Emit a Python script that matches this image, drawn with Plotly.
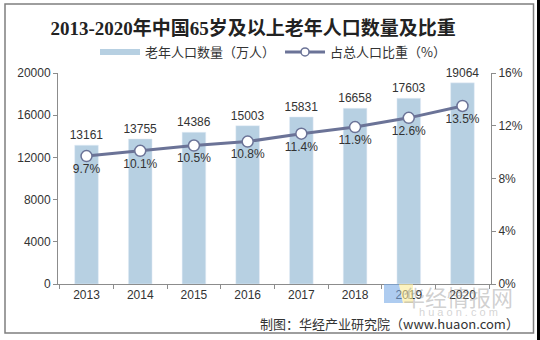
import plotly.graph_objects as go

years = ["2013", "2014", "2015", "2016", "2017", "2018", "2019", "2020"]
population = [13161, 13755, 14386, 15003, 15831, 16658, 17603, 19064]
share = [9.7, 10.1, 10.5, 10.8, 11.4, 11.9, 12.6, 13.5]

W, H = 540, 340
ML, MR, MT, MB = 58, 49, 73, 56
PW, PH = W - ML - MR, H - MT - MB

def xp(px):
    return (px - ML) / PW

def yp(py):
    return (H - MB - py) / PH

bar_color = "#b7d0e2"
line_color = "#6b7397"
txt = "#333333"
sans = "Arial, 'Liberation Sans', 'Noto Sans CJK SC', sans-serif"
cjk = "'Noto Sans CJK SC', sans-serif"

fig = go.Figure()
fig.add_trace(go.Bar(
    x=years, y=population, marker_color=bar_color, showlegend=False,
    text=[str(v) for v in population], textposition="outside", constraintext="none",
    textfont=dict(size=12, color=txt, family=sans), cliponaxis=False,
    name="老年人口数量（万人）",
))
fig.add_trace(go.Scatter(
    x=years, y=share, yaxis="y2", mode="lines+markers+text",
    line=dict(color=line_color, width=3),
    marker=dict(size=11, color="white", line=dict(color=line_color, width=1.5)),
    text=[f"{v}%" for v in share], textposition="bottom center",
    textfont=dict(size=12, color=txt, family=sans), cliponaxis=False,
    showlegend=False, name="占总人口比重（%）",
))
# legend proxies
fig.add_trace(go.Scatter(
    x=[None], y=[None], mode="lines", line=dict(color=bar_color, width=6),
    name="老年人口数量（万人）",
))
fig.add_trace(go.Scatter(
    x=[None], y=[None], mode="lines+markers", line=dict(color=line_color, width=3),
    marker=dict(size=8, color="white", line=dict(color=line_color, width=1.5)),
    name="占总人口比重（%）", yaxis="y2",
))

axis_line = "#8c8c8c"
fig.update_layout(
    width=W, height=H, margin=dict(l=ML, r=MR, t=MT, b=MB),
    paper_bgcolor="white", plot_bgcolor="white",
    bargap=0.56,
    title=dict(text="<b>2013-2020年中国65岁及以上老年人口数量及比重</b>",
               x=xp(261), xanchor="center", y=1 - 28 / H, yanchor="middle",
               font=dict(size=19, color="#222222",
                         family="'Liberation Serif', 'Times New Roman', 'Noto Sans CJK SC', serif")),
    legend=dict(orientation="h", x=xp(273), xanchor="center", y=yp(52), yanchor="middle",
                font=dict(size=13, color=txt, family=cjk), itemwidth=40,
                bgcolor="rgba(0,0,0,0)", traceorder="normal"),
    xaxis=dict(type="category", showline=True, linecolor=axis_line, linewidth=1,
               ticks="outside", tickson="boundaries", ticklen=4, tickcolor=axis_line,
               tickfont=dict(size=12, color=txt, family=sans), showgrid=False),
    yaxis=dict(range=[0, 20000], dtick=4000, tickformat="d", showline=True, linecolor=axis_line,
               ticks="outside", ticklen=4, tickcolor=axis_line, showgrid=False,
               zeroline=False, tickfont=dict(size=12, color=txt, family=sans)),
    yaxis2=dict(range=[0, 16], dtick=4, overlaying="y", side="right", showline=True,
                linecolor=axis_line, ticks="outside", ticklen=4, tickcolor=axis_line,
                showgrid=False, zeroline=False, ticksuffix="%",
                tickfont=dict(size=12, color=txt, family=sans)),
    font=dict(family=sans, color=txt),
)

shapes = [
    dict(type="rect", xref="paper", yref="paper", x0=xp(5), x1=xp(533.5), y0=yp(4), y1=yp(333),
         line=dict(color="#7f7f7f", width=1.5), fillcolor="rgba(0,0,0,0)", layer="below"),
    dict(type="rect", xref="paper", yref="paper", x0=xp(537), x1=xp(541), y0=yp(-1), y1=yp(341),
         line=dict(width=0), fillcolor="black"),
    dict(type="path", xref="paper", yref="paper",
         path=f"M {xp(384)},{yp(284)} L {xp(399)},{yp(284)} L {xp(403)},{yp(303)} L {xp(384)},{yp(303)} Z",
         line=dict(width=0), fillcolor="rgba(120,170,230,0.6)"),
    dict(type="path", xref="paper", yref="paper",
         path=f"M {xp(399)},{yp(284)} L {xp(413)},{yp(284)} L {xp(413)},{yp(303)} L {xp(403)},{yp(303)} Z",
         line=dict(width=0), fillcolor="rgba(250,235,150,0.6)"),
]
fig.update_layout(shapes=shapes)

fig.add_annotation(text="华经情报网", xref="paper", yref="paper", x=xp(458), y=yp(296),
                   xanchor="center", yanchor="middle", showarrow=False,
                   font=dict(size=22, color="rgba(150,150,150,0.45)", family=cjk))
fig.add_annotation(text="h u a o n . c o m", xref="paper", yref="paper", x=xp(458), y=yp(312),
                   xanchor="center", yanchor="middle", showarrow=False,
                   font=dict(size=11, color="rgba(170,170,170,0.5)", family=sans))
fig.add_annotation(text="制图：华经产业研究院（www.huaon.com）", xref="paper", yref="paper",
                   x=xp(521), y=yp(323), xanchor="right", yanchor="middle", showarrow=False,
                   font=dict(size=13, color=txt, family=cjk))

fig.write_html("out.html")
